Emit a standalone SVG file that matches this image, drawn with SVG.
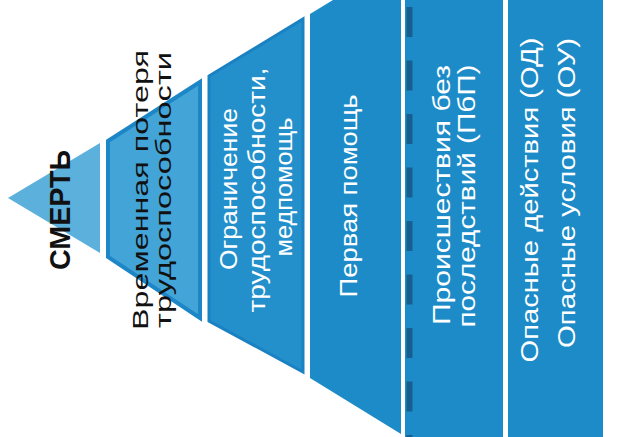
<svg xmlns="http://www.w3.org/2000/svg" width="625" height="437" viewBox="0 0 625 437">
<style>
.t{font-family:"Liberation Sans","Arial",sans-serif;text-anchor:middle}
.blk{fill:#111}
.wht{fill:#fff}
.lvl{fill:#1c8bc7}
</style>
<rect width="625" height="437" fill="#fff"/>
<g id="death">
  <polygon points="8,198 100,143 100,253" fill="#5cb0dc"/>
  <text class="t blk" font-size="29" font-weight="bold" transform="translate(70,210) rotate(-90)" textLength="120" lengthAdjust="spacingAndGlyphs">СМЕРТЬ</text>
</g>
<g id="lost-time">
  <polygon points="108,141 200,82 200,318 108,257" fill="#43a4d8" stroke="#1d86c6" stroke-width="4" stroke-linejoin="miter"/>
  <text class="t blk" font-size="22" transform="translate(148,190) rotate(-90)" textLength="280" lengthAdjust="spacingAndGlyphs">Временная потеря</text>
  <text class="t blk" font-size="22" transform="translate(171,190) rotate(-90)" textLength="276" lengthAdjust="spacingAndGlyphs">трудоспособности</text>
</g>
<g id="restricted-work">
  <polygon points="209,76 303,19 303,372 209,321" fill="#2390cc" stroke="#1a81c2" stroke-width="3"/>
  <text class="t wht" font-size="23" transform="translate(237,189) rotate(-90)" textLength="162" lengthAdjust="spacingAndGlyphs">Ограничение</text>
  <text class="t wht" font-size="23" transform="translate(265,190) rotate(-90)" textLength="245" lengthAdjust="spacingAndGlyphs">трудоспособности,</text>
  <text class="t wht" font-size="23" transform="translate(292,187) rotate(-90)" textLength="139" lengthAdjust="spacingAndGlyphs">медпомощь</text>
</g>
<g id="first-aid">
  <polygon class="lvl" points="310,14 333,0 401,0 401,434 310,378"/>
  <text class="t wht" font-size="23" transform="translate(357,196) rotate(-90)" textLength="203" lengthAdjust="spacingAndGlyphs">Первая помощь</text>
</g>
<g id="near-miss">
  <rect class="lvl" x="405" y="0" width="98" height="437"/>
  <line x1="409.5" y1="7" x2="409.5" y2="437" stroke="#16608f" stroke-width="6" stroke-dasharray="30 23.5"/>
  <text class="t wht" font-size="23" transform="translate(450,195) rotate(-90)" textLength="260" lengthAdjust="spacingAndGlyphs">Происшествия без</text>
  <text class="t wht" font-size="23" transform="translate(475,196) rotate(-90)" textLength="263" lengthAdjust="spacingAndGlyphs">последствий (ПбП)</text>
</g>
<g id="unsafe">
  <rect class="lvl" x="508" y="0" width="95" height="437"/>
  <text class="t wht" font-size="23" transform="translate(538,200) rotate(-90)" textLength="325" lengthAdjust="spacingAndGlyphs">Опасные действия (ОД)</text>
  <text class="t wht" font-size="23" transform="translate(575,193) rotate(-90)" textLength="310" lengthAdjust="spacingAndGlyphs">Опасные условия (ОУ)</text>
</g>
<g id="connectors"/>
</svg>
